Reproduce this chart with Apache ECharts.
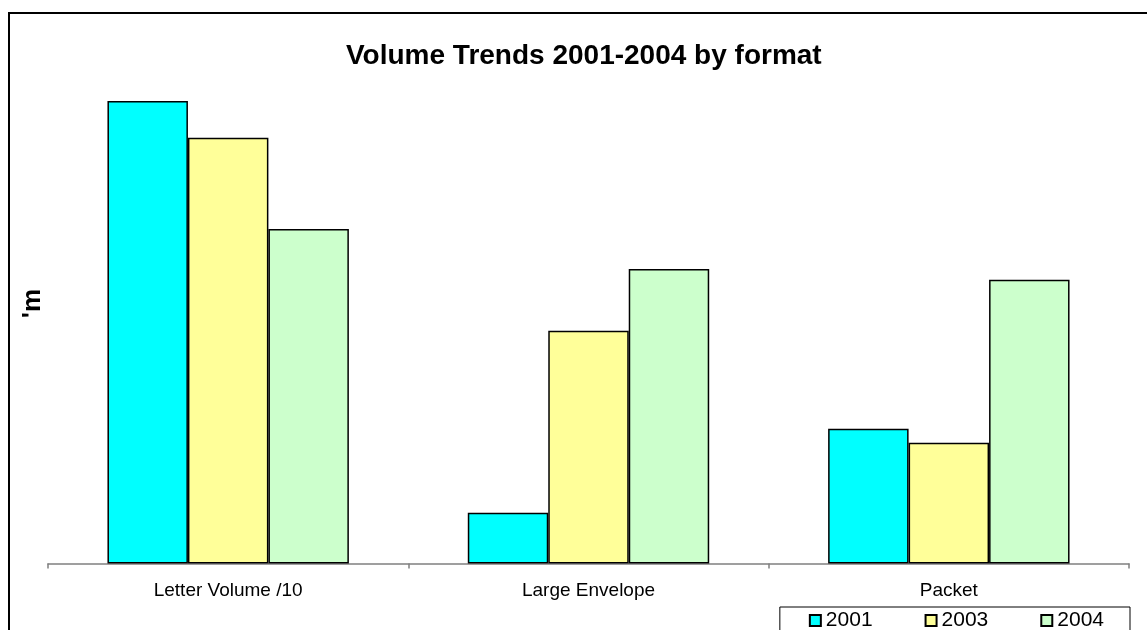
<!DOCTYPE html>
<html>
<head>
<meta charset="utf-8">
<script src="https://cdn.jsdelivr.net/npm/echarts@6/dist/echarts.min.js"></script>
<style>html,body{margin:0;padding:0;background:#fff;}#c{width:1147px;height:630px;}</style>
</head>
<body>
<div id="c"></div>
<script>
const categories = ['Letter Volume /10', 'Large Envelope', 'Packet'];
const years = ['2001', '2003', '2004'];
const values2001 = [462.5, 50.8, 134.8];
const values2003 = [425.8, 232.8, 120.8];
const values2004 = [334.5, 294.5, 283.8];
const colors = ['#00FFFF', '#FFFF99', '#CCFFCC'];

const seriesData = [values2001, values2003, values2004];
const chart = echarts.init(document.getElementById('c'), null, {renderer: 'canvas'});
const FONT = '"Liberation Sans", Arial, sans-serif';

chart.setOption({
  backgroundColor: '#fff',
  animation: false,
  title: {
    text: 'Volume Trends 2001-2004 by format',
    left: 341,
    top: 37,
    textStyle: {fontFamily: FONT, fontSize: 28, fontWeight: 'bold', color: '#000'}
  },
  graphic: [{
    type: 'rect',
    shape: {x: 9, y: 13, width: 1300, height: 800},
    style: {fill: 'none', stroke: '#000', lineWidth: 2},
    silent: true,
    z: 100
  }],
  legend: {
    data: years,
    right: 17,
    top: 607,
    orient: 'horizontal',
    padding: [3, 26, 10, 29],
    itemGap: 52,
    itemWidth: 11,
    itemHeight: 11,
    icon: 'rect',
    borderColor: '#000',
    borderWidth: 1,
    textStyle: {fontFamily: FONT, fontSize: 21, color: '#000'}
  },
  grid: {left: 48, right: 18, top: 63.5, bottom: 66.5, containLabel: false, outerBoundsMode: 'none'},
  xAxis: {
    type: 'category',
    data: categories,
    axisLine: {lineStyle: {color: '#808080', width: 1.5}},
    axisTick: {show: true, length: 5, lineStyle: {color: '#808080', width: 1.5}},
    axisLabel: {fontFamily: FONT, fontSize: 19, color: '#000', margin: 18}
  },
  yAxis: {
    type: 'value',
    min: 0,
    max: 500,
    name: "'m",
    nameLocation: 'middle',
    nameRotate: 90,
    nameGap: 2,
    nameTextStyle: {fontFamily: FONT, fontSize: 26, fontWeight: 'bold', color: '#000', padding: [0, 0, 0, 20]},
    axisLine: {show: false},
    axisTick: {show: false},
    axisLabel: {show: false},
    splitLine: {show: false}
  },
  series: years.map((y, i) => ({
    name: y,
    type: 'bar',
    data: seriesData[i],
    barGap: '0%',
    barCategoryGap: '33%',
    itemStyle: {color: colors[i], borderColor: '#000', borderWidth: 1.5}
  }))
});
</script>
</body>
</html>
